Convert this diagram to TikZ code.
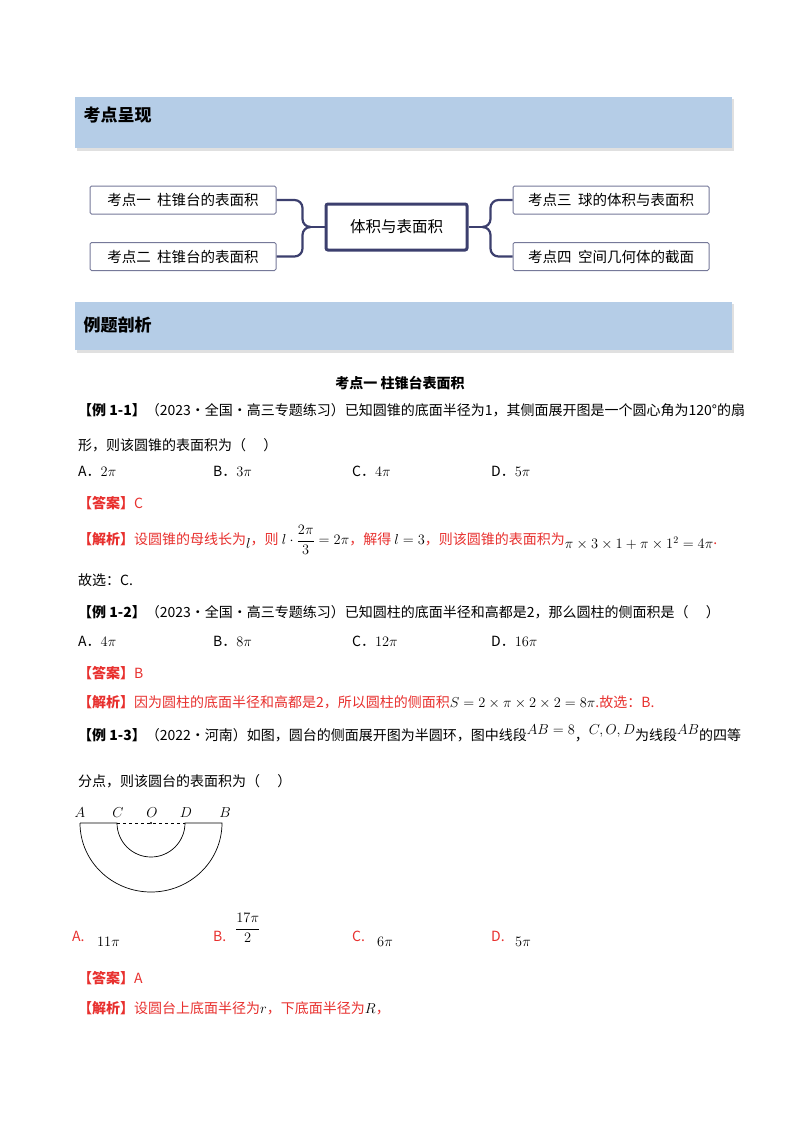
\documentclass[tikz,border=0pt]{standalone}
\usepackage{amsmath}
\usepackage{fontspec}
\setmainfont{Noto Sans CJK SC}
\usetikzlibrary{shadows}
\definecolor{band}{HTML}{B5CDE7}
\definecolor{navy}{HTML}{3C3F6E}
\definecolor{ans}{HTML}{E8302E}
\tikzset{
 band/.style={fill=band,draw=none},
 ttl/.style={anchor=west,font=\fontsize{17}{20}\selectfont\bfseries},
 leaf/.style={draw=navy!70,line width=1pt,rounded corners=1.5pt,minimum height=28pt,anchor=center,font=\fontsize{14.5}{16}\selectfont},
 root/.style={draw=navy,line width=3pt,rounded corners=2pt,minimum width=141pt,minimum height=46pt,font=\fontsize{15.5}{18}\selectfont},
 conn/.style={draw=navy,line width=2.2pt},
 ln/.style={anchor=west,inner sep=0pt,font=\fontsize{14}{16}\selectfont},
 red/.style={ln,text=ans},
}
\begin{document}
\begin{tikzpicture}[x=1pt,y=-1pt]
\useasboundingbox[fill=white] (0,0) rectangle (800,1132);
\fill[black!12] (77,99) rectangle (734,151);
\fill[band] (75,97) rectangle (732,148);
\node[ttl] (t1) at (80,115) {考点呈现};
\fill[black!12] (77,304) rectangle (734,353);
\fill[band] (75,302) rectangle (732,350);
\node[ttl] (t2) at (80,325) {例题剖析};
% mind map
\node[root] (c) at (396.5,227) {体积与表面积};
\node[leaf,minimum width=186pt] (l1) at (183,200) {考点一\ \ 柱锥台的表面积};
\node[leaf,minimum width=186pt] (l2) at (183,256.5) {考点二\ \ 柱锥台的表面积};
\node[leaf,minimum width=196pt] (r1) at (611,200) {考点三\ \ 球的体积与表面积};
\node[leaf,minimum width=196pt] (r2) at (611,256.5) {考点四\ \ 空间几何体的截面};
\draw[conn] (c.west) -- ++(-18,0) coordinate (cl);
\draw[conn,rounded corners=8pt] (cl) -- ++(-4,0) |- (l1.east);
\draw[conn,rounded corners=8pt] (cl) -- ++(-4,0) |- (l2.east);
\draw[conn] (c.east) -- ++(18,0) coordinate (cr);
\draw[conn,rounded corners=8pt] (cr) -- ++(4,0) |- (r1.west);
\draw[conn,rounded corners=8pt] (cr) -- ++(4,0) |- (r2.west);
% text
\node[ln,anchor=center,font=\fontsize{14}{16}\selectfont\bfseries] (h) at (400,383) {考点一\ 柱锥台表面积};
\node[ln] (a1) at (78,410) {\textbf{【例 1-1】}（2023·全国·高三专题练习）已知圆锥的底面半径为1，其侧面展开图是一个圆心角为120°的扇};
\node[ln] (a2) at (78,445) {形，则该圆锥的表面积为（\quad\ ）};
\node[ln] (a3) at (78,471) {A．$2\pi$};
\node[ln] (a4) at (213,471) {B．$3\pi$};
\node[ln] (a5) at (352,471) {C．$4\pi$};
\node[ln] (a6) at (491,471) {D．$5\pi$};
\node[red] (a7) at (78,503) {\textbf{【答案】}C};
\node[red] (a8) at (78,540) {\textbf{【解析】}设圆锥的母线长为\raisebox{-4pt}{\textcolor{black}{$l$}}，则 \textcolor{black}{$l\cdot\dfrac{2\pi}{3}=2\pi$}，解得 \textcolor{black}{$l=3$}，则该圆锥的表面积为\raisebox{-4pt}{\textcolor{black}{$\pi\times3\times1+\pi\times1^2=4\pi$}}.};
\node[ln] (a9) at (78,580) {故选：C.};
\node[ln] (b1) at (78,612) {\textbf{【例 1-2】}（2023·全国·高三专题练习）已知圆柱的底面半径和高都是2，那么圆柱的侧面积是（\quad\ ）};
\node[ln] (b2) at (78,641) {A．$4\pi$};
\node[ln] (b3) at (213,641) {B．$8\pi$};
\node[ln] (b4) at (352,641) {C．$12\pi$};
\node[ln] (b5) at (491,641) {D．$16\pi$};
\node[red] (b6) at (78,673) {\textbf{【答案】}B};
\node[red] (b7) at (78,702) {\textbf{【解析】}因为圆柱的底面半径和高都是2，所以圆柱的侧面积\textcolor{black}{$S=2\times\pi\times2\times2=8\pi$}.故选：B.};
\node[ln] (c1) at (78,733) {\textbf{【例 1-3】}（2022·河南）如图，圆台的侧面展开图为半圆环，图中线段\raisebox{6pt}{$AB=8$}，\raisebox{6pt}{$C,O,D$}为线段\raisebox{6pt}{$AB$}的四等};
\node[ln] (c2) at (78,781) {分点，则该圆台的表面积为（\quad\ ）};
% figure
\draw[line width=0.7pt] (80,823) -- (117,823) arc[start angle=180,end angle=360,x radius=34,y radius=-34] -- (222,823) arc[start angle=0,end angle=-180,x radius=71,y radius=-69] ;
\draw[dashed,line width=0.6pt] (117,823) -- (185,823);
\fill (151,823) circle (1.2pt);
\node[font=\fontsize{14}{16}\selectfont] (pA) at (80,813) {$A$};
\node[font=\fontsize{14}{16}\selectfont] (pC) at (118,813) {$C$};
\node[font=\fontsize{14}{16}\selectfont] (pO) at (152,813) {$O$};
\node[font=\fontsize{14}{16}\selectfont] (pD) at (186,813) {$D$};
\node[font=\fontsize{14}{16}\selectfont] (pB) at (225,813) {$B$};
\node[red] (d1) at (72,936) {A.};
\node[ln] (d2) at (97,942) {$11\pi$};
\node[red] (d3) at (213,936) {B.};
\node[ln] (d4) at (235,928) {$\dfrac{17\pi}{2}$};
\node[red] (d5) at (352,936) {C.};
\node[ln] (d6) at (377,942) {$6\pi$};
\node[red] (d7) at (491,936) {D.};
\node[ln] (d8) at (515,942) {$5\pi$};
\node[red] (e1) at (78,978) {\textbf{【答案】}A};
\node[red] (e2) at (78,1008) {\textbf{【解析】}设圆台上底面半径为\textcolor{black}{$r$}，下底面半径为\textcolor{black}{$R$}，};
\end{tikzpicture}
\end{document}
